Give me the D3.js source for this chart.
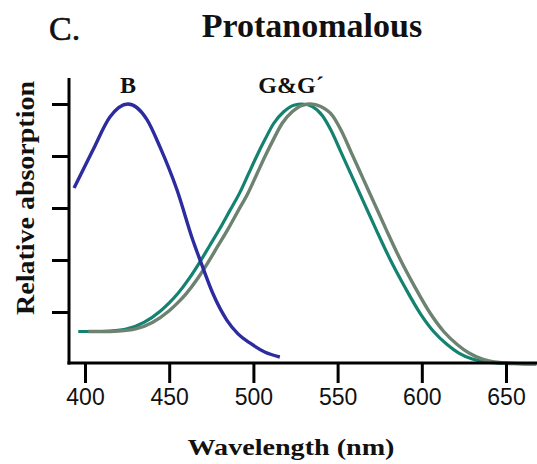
<!DOCTYPE html>
<html>
<head>
<meta charset="utf-8">
<script src="https://cdn.jsdelivr.net/npm/d3@7"></script>
<style>
  html, body { margin: 0; padding: 0; background: #fff; }
  svg { display: block; }
  .serif { font-family: "Liberation Serif", "Times New Roman", serif; }
  .tick text { font-family: "Liberation Sans", Arial, sans-serif; }
</style>
</head>
<body>
<div id="main"></div>
<script>
// absorption spectra, wavelength (nm) vs relative absorption
const blueB = [
  [393.5, 0.677], [404.7, 0.823], [414.8, 0.95], [425.5, 1.0], [436.8, 0.94],
  [444.5, 0.835], [454.6, 0.67], [464, 0.477], [469.4, 0.381], [476, 0.27],
  [484.2, 0.169], [491, 0.115], [497.9, 0.081], [507, 0.045], [515.7, 0.027]
];
const greenG = [
  [396, 0.125], [405, 0.125], [415, 0.127], [425, 0.135], [435, 0.16], [445, 0.205],
  [450, 0.235], [455, 0.27], [462, 0.33], [468, 0.39], [474, 0.455], [480, 0.52],
  [486, 0.59], [492, 0.66], [497, 0.73], [502, 0.8], [507, 0.865], [512, 0.925],
  [518, 0.97], [524, 0.995], [529, 1.0], [535, 0.99], [541, 0.955], [546, 0.9],
  [552, 0.815], [559, 0.715], [566, 0.615], [573, 0.515], [581, 0.405], [590, 0.295],
  [599, 0.195], [607, 0.125], [615, 0.075], [622, 0.042], [630, 0.019], [640, 0.006],
  [655, 0.001], [668, 0]
];
const greenGprime = [
  [402, 0.125], [410, 0.125], [420, 0.127], [430, 0.135], [440, 0.16], [450, 0.205],
  [455, 0.235], [460, 0.27], [467, 0.33], [473, 0.39], [479, 0.455], [485, 0.52],
  [491, 0.59], [497, 0.66], [502, 0.73], [507, 0.8], [512, 0.865], [517, 0.925],
  [523, 0.97], [529, 0.995], [534, 1.0], [540, 0.99], [547, 0.955], [552, 0.9],
  [558, 0.815], [565, 0.715], [572, 0.615], [579, 0.515], [587, 0.405], [596, 0.295],
  [605, 0.195], [613, 0.125], [621, 0.075], [628, 0.042], [636, 0.019], [646, 0.006],
  [660, 0.001], [668, 0]
];
const xTicks = [400, 450, 500, 550, 600, 650];
const yTicks = [0.2, 0.4, 0.6, 0.8, 1.0];

const width = 537, height = 464;

const svg = d3.select('#main').append('svg')
  .attr('width', width)
  .attr('height', height);

const x = d3.scaleLinear().domain([390.5, 668.4]).range([69, 537]);
const y = d3.scaleLinear().domain([0, 1.1]).range([364, 78]);

const line = d3.line()
  .x(d => x(d[0]))
  .y(d => y(d[1]))
  .curve(d3.curveMonotoneX);

// curves
svg.append('path').datum(greenG)
  .attr('d', line).attr('fill', 'none')
  .attr('stroke', '#138270').attr('stroke-width', 3.2);
svg.append('path').datum(greenGprime)
  .attr('d', line).attr('fill', 'none')
  .attr('stroke', '#6d8270').attr('stroke-width', 3.4);
svg.append('path').datum(blueB)
  .attr('d', line).attr('fill', 'none')
  .attr('stroke', '#2c2ca0').attr('stroke-width', 3.4);

// axes
const xAxis = svg.append('g')
  .attr('transform', 'translate(0,363)')
  .call(d3.axisBottom(x).tickValues(xTicks).tickSize(20).tickSizeOuter(0).tickPadding(6));
xAxis.select('.domain').attr('stroke-width', 3).attr('d', 'M67.5,0H537');
xAxis.selectAll('.tick line').attr('stroke-width', 3);
xAxis.selectAll('.tick text')
  .attr('font-size', 23).attr('fill', '#111');

const yAxis = svg.append('g')
  .attr('transform', 'translate(69,0)')
  .call(d3.axisLeft(y).tickValues(yTicks).tickSize(17).tickSizeOuter(0).tickFormat(''));
yAxis.select('.domain').attr('stroke-width', 3).attr('d', 'M0,78V364.5');
yAxis.selectAll('.tick line').attr('stroke-width', 3);

// text
svg.append('text').attr('class', 'serif')
  .attr('x', 49).attr('y', 40)
  .attr('font-size', 34).attr('fill', '#111')
  .attr('stroke', '#111').attr('stroke-width', 0.6)
  .text('C.');

svg.append('text').attr('class', 'serif')
  .attr('x', 312).attr('y', 37)
  .attr('text-anchor', 'middle')
  .attr('font-size', 34).attr('font-weight', 'bold').attr('fill', '#111')
  .text('Protanomalous');

svg.append('text').attr('class', 'serif')
  .attr('x', x(425.5)).attr('y', 93)
  .attr('text-anchor', 'middle')
  .attr('font-size', 24).attr('font-weight', 'bold').attr('fill', '#111')
  .text('B');

svg.append('text').attr('class', 'serif')
  .attr('x', 291).attr('y', 93)
  .attr('text-anchor', 'middle')
  .attr('font-size', 24).attr('font-weight', 'bold').attr('fill', '#111')
  .text('G&G\u00b4');

svg.append('text').attr('class', 'serif')
  .attr('transform', 'translate(34,198) rotate(-90)')
  .attr('text-anchor', 'middle')
  .attr('font-size', 25).attr('font-weight', 'bold').attr('fill', '#111')
  .attr('textLength', 234).attr('lengthAdjust', 'spacingAndGlyphs')
  .text('Relative absorption');

svg.append('text').attr('class', 'serif')
  .attr('x', 291).attr('y', 455)
  .attr('text-anchor', 'middle')
  .attr('font-size', 23).attr('font-weight', 'bold').attr('fill', '#111')
  .attr('textLength', 207).attr('lengthAdjust', 'spacingAndGlyphs')
  .text('Wavelength (nm)');
</script>
</body>
</html>
